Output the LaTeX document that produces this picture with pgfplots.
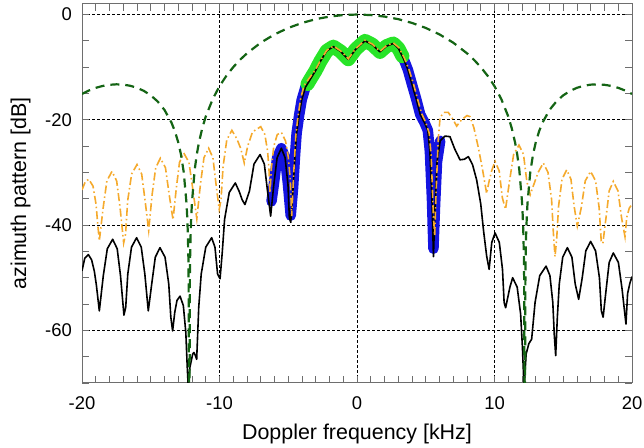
\documentclass[border=0pt]{standalone}
\usepackage{fontspec}
\setmainfont{Liberation Sans}
\usepackage{pgfplots}
\pgfplotsset{compat=1.18}
\usepackage{pgfplotstable}
\definecolor{lime}{RGB}{40,228,40}
\definecolor{bblue}{RGB}{20,20,225}
\definecolor{orng}{RGB}{245,170,45}
\definecolor{dgreen}{RGB}{20,100,20}
\definecolor{framegray}{RGB}{110,110,110}

\pgfplotstableread{
x y
-20 -48.7
-19.8 -46.3
-19.54 -45.6
-19.3 -46.6
-19.1 -48.8
-18.95 -51.5
-18.74 -56.3
-18.45 -49.6
-18.16 -44.5
-17.77 -42.7
-17.44 -44.5
-17.20 -49.6
-16.95 -57.1
-16.82 -55.6
-16.67 -49.3
-16.40 -44.2
-16.03 -42.4
-15.69 -44.2
-15.43 -49.3
-15.18 -56.3
-14.93 -51.2
-14.67 -46.1
-14.33 -44.3
-13.96 -46.1
-13.69 -51.2
-13.54 -57.5
-13.41 -60.1
-13.25 -56.5
-13.09 -54.3
-12.87 -53.5
-12.63 -55.3
-12.45 -60.4
-12.35 -66.7
-12.27 -71
-12.15 -67
-11.95 -64.5
-11.86 -64.2
-11.75 -64.8
-11.66 -65.5
-11.51 -55.6
-11.33 -49.3
-11.0 -44.2
-10.57 -42.4
-10.33 -44.2
-10.14 -49.3
-9.96 -50.2
-9.80 -45.2
-9.63 -38.9
-9.29 -33.8
-8.85 -32
-8.57 -33.6
-8.35 -35.2
-8.15 -36.1
-7.82 -33.5
-7.49 -28.4
-7.05 -26.6
-6.74 -28.4
-6.51 -33.5
-6.28 -38.3
-6.05 -32.3
-5.81 -27.2
-5.5 -25.4
-5.23 -27.2
-5.02 -32.3
-4.92 -38.6
-4.82 -39.5
-4.65 -33
-4.5 -26.5
-4.39 -22.5
-4.2 -19
-4.02 -16.2
-3.75 -13.8
-3.42 -12.4
-3.0 -10.6
-2.69 -9.0
-2.2 -6.9
-1.72 -6.1
-1.2 -7.0
-0.63 -8.5
-0.1 -6.6
0.58 -5.0
1.1 -5.7
1.67 -7.1
2.15 -6.0
2.64 -5.5
3.0 -6.4
3.37 -8.3
3.7 -10.5
3.98 -13.1
4.3 -16
4.6 -19
4.9 -20.5
5.15 -22
5.3 -26
5.45 -35
5.56 -46
5.68 -36
5.82 -28
6.05 -24
6.4 -23.1
6.76 -23.2
7.1 -25.5
7.49 -27.6
7.8 -27.5
8.1 -27.0
8.4 -28.5
8.7 -31.4
9.0 -36
9.2 -41
9.43 -45.9
9.61 -48.4
9.80 -43.3
10.04 -41.5
10.35 -43.3
10.58 -48.4
10.70 -54.7
10.81 -55.7
11.12 -51.8
11.32 -50
11.65 -51.8
11.90 -56.9
12.03 -63.2
12.15 -71
12.3 -64.5
12.5 -62.5
12.7 -61.7
12.95 -54.7
13.29 -49.6
13.75 -47.8
14.03 -49.6
14.24 -54.7
14.35 -61
14.45 -64.8
14.57 -57.5
14.71 -51.2
14.96 -46.1
15.3 -44.3
15.63 -46.1
15.87 -51.2
16.12 -54.1
16.38 -50.0
16.64 -44.9
16.99 -43.1
17.35 -44.9
17.63 -50.0
17.77 -56.3
17.9 -57.5
18.12 -52.2
18.34 -47.1
18.64 -45.3
19.01 -47.1
19.28 -52.2
19.56 -58.8
19.68 -53
19.85 -51
20 -49.8
}\blackdata

\pgfplotstableread{
x y
-20 -33.3
-19.75 -31.7
-19.5 -31.3
-19.2 -32.6
-18.98 -36.0
-18.85 -40
-18.74 -43
-18.46 -36.7
-18.19 -31.6
-17.82 -29.8
-17.48 -31.6
-17.23 -36.7
-16.97 -43.4
-16.83 -41.7
-16.68 -35.4
-16.39 -30.3
-16.0 -28.5
-15.66 -30.3
-15.41 -35.4
-15.15 -41
-14.90 -34.2
-14.64 -29.1
-14.3 -27.3
-13.93 -29.1
-13.66 -34.2
-13.38 -39
-13.15 -33.2
-12.91 -28.1
-12.6 -26.3
-12.22 -28.1
-11.94 -33.2
-11.65 -38.8
-11.39 -32.3
-11.13 -27.2
-10.79 -25.4
-10.48 -27.2
-10.25 -32.3
-10.02 -37
-9.89 -35.2
-9.74 -28.9
-9.47 -23.8
-9.1 -22.0
-8.74 -23.6
-8.45 -25.5
-8.2 -28.2
-7.95 -25
-7.6 -22.3
-7.0 -21.3
-6.7 -22.8
-6.5 -26
-6.4 -29.5
-6.33 -33.9
-6.22 -29
-6.05 -25
-5.8 -22.8
-5.5 -22.4
-5.2 -24
-5.0 -27
-4.85 -31.5
-4.75 -38.3
-4.6 -30
-4.45 -23
-4.3 -19.5
-4.1 -16
-3.85 -13.5
-3.5 -12.2
-3.0 -10.4
-2.69 -8.9
-2.2 -6.8
-1.72 -6.0
-1.2 -6.9
-0.63 -8.4
-0.1 -6.5
0.58 -4.9
1.1 -5.6
1.67 -7.0
2.15 -5.9
2.64 -5.4
3.05 -6.3
3.45 -8.3
3.8 -10.6
4.1 -13.1
4.4 -16
4.7 -18.8
5.0 -20.5
5.25 -22.5
5.4 -27
5.55 -38
5.65 -42
5.75 -34
5.9 -24
6.04 -19.6
6.3 -18.6
6.64 -18.6
6.95 -19.8
7.25 -21.2
7.6 -20
8.0 -19.2
8.22 -19.4
8.5 -21.5
8.8 -25
9.1 -29
9.43 -34
9.58 -32
9.79 -29.7
10.04 -27.9
10.34 -29.7
10.57 -34.8
10.8 -37
11.09 -31.7
11.39 -26.6
11.78 -24.8
12.11 -26.6
12.35 -31.7
12.6 -34.2
13.17 -30
13.55 -28.2
13.89 -30
14.15 -35.1
14.28 -41.4
14.4 -46
14.52 -42.7
14.66 -36.4
14.91 -31.3
15.25 -29.5
15.56 -31.3
15.79 -36.4
16.02 -40.2
16.31 -36.7
16.60 -31.6
16.99 -29.8
17.35 -31.6
17.61 -36.7
17.76 -43
17.88 -43.5
18.11 -38.6
18.34 -33.5
18.64 -31.7
18.98 -33.5
19.24 -38.6
19.49 -42.2
19.62 -38.5
19.8 -36.8
20 -36
}\orangedata

\pgfplotstableread{
x y
-20 -15.09
-19.5 -14.44
-19 -13.93
-18.5 -13.57
-18 -13.35
-17.5 -13.26
-17 -13.32
-16.5 -13.53
-16 -13.92
-15.5 -14.51
-15 -15.35
-14.5 -16.51
-14 -18.13
-13.5 -20.49
-13.25 -22.13
-13 -24.28
-12.8 -26.61
-12.6 -29.98
-12.4 -35.84
-12.35 -38.31
-12.3 -41.79
-12.25 -47.8
-12.2 -90
-12.15 -47.72
-12.1 -41.67
-12.05 -38.10
-12 -35.57
-11.8 -29.41
-11.65 -26.55
-11.5 -24.36
-11.25 -21.56
-11 -19.37
-10.5 -16.10
-10 -13.61
-9.5 -11.64
-9 -9.99
-8.5 -8.58
-8 -7.37
-7 -5.35
-6 -3.78
-5 -2.55
-4 -1.60
-3 -0.88
-2 -0.39
-1 -0.10
0 0
1 -0.10
2 -0.39
3 -0.88
4 -1.60
5 -2.55
6 -3.78
7 -5.35
8 -7.37
8.5 -8.58
9 -9.99
9.5 -11.64
10 -13.61
10.5 -16.10
11 -19.37
11.25 -21.56
11.5 -24.36
11.65 -26.55
11.8 -29.41
12 -35.57
12.05 -38.10
12.1 -41.67
12.15 -47.72
12.2 -90
12.25 -47.8
12.3 -41.79
12.35 -38.31
12.4 -35.84
12.6 -29.98
12.8 -26.61
13 -24.28
13.25 -22.13
13.5 -20.49
14 -18.13
14.5 -16.51
15 -15.35
15.5 -14.51
16 -13.92
16.5 -13.53
17 -13.32
17.5 -13.26
18 -13.35
18.5 -13.57
19 -13.93
19.5 -14.44
20 -15.09
}\sincdata

\pgfplotstableread{
x y
-6.22 -35.5
-6.05 -32.3
-5.81 -27.2
-5.5 -25.4
-5.23 -27.2
-5.02 -32.3
-4.82 -38.2
-4.65 -33
-4.5 -26.5
-4.39 -22.5
-4.2 -19
-4.02 -16.2
-3.75 -13.8
-3.4 -12.3
}\blueleft

\pgfplotstableread{
x y
3.2 -7.3
3.37 -8.3
3.7 -10.5
3.98 -13.1
4.3 -16
4.6 -19
4.9 -20.5
5.15 -22
5.3 -26
5.45 -35
5.56 -44.5
5.68 -36
5.82 -28
6.05 -24
}\blueright

\pgfplotstableread{
x y
-3.6 -13.2
-3.42 -12.4
-3.0 -10.6
-2.69 -9.0
-2.2 -6.9
-1.72 -6.1
-1.2 -7.0
-0.63 -8.5
-0.1 -6.6
0.58 -5.0
1.1 -5.7
1.67 -7.1
2.15 -6.0
2.64 -5.5
3.0 -6.4
3.3 -7.9
}\greendata

\begin{document}
\begin{tikzpicture}
\begin{axis}[
  name=ax,
  scale only axis,
  width=550bp, height=379bp,
  xmin=-20, xmax=20, ymin=-70, ymax=2,
  xtick={-20,-10,0,10,20},
  ytick={-60,-40,-20,0},
  minor xtick={-20,-19,...,20},
  minor ytick={-70,-65,...,0},
  tick pos=both, ticklabel pos=left,
  tick align=inside,
  major tick length=7bp, minor tick length=7bp,
  every tick/.style={framegray, line width=0.8bp},
  axis line style={framegray, line width=1bp},
  grid=major,
  major grid style={black, line width=0.6bp, dash pattern=on 2.5bp off 2.5bp},
  /pgf/number format/assume math mode=true,
  tick label style={font=\fontsize{18.5}{22}\selectfont},
  xticklabel style={anchor=base, yshift=-27bp},
  yticklabel style={anchor=east, inner sep=0pt, xshift=-10bp},
  xlabel={Doppler frequency [kHz]},
  ylabel={azimuth pattern [dB]},
  label style={font=\fontsize{21.5}{24}\selectfont},
  xlabel style={at={(axis description cs:0.5,-0.150)}, anchor=base, inner sep=0pt},
  ylabel style={at={(axis description cs:-0.093,0.5)}, anchor=south, inner sep=0pt},
]
\addplot[bblue, line width=10.5bp, line join=round, line cap=round] table {\blueleft};
\addplot[bblue, line width=10.5bp, line join=round, line cap=round] table {\blueright};
\addplot[lime, line width=14bp, line join=round, line cap=round] table {\greendata};
\addplot[black, line width=1.6bp, line join=round] table {\blackdata};
\addplot[orng, line width=1.6bp, dash pattern=on 8bp off 3bp on 1.5bp off 3bp] table {\orangedata};
\addplot[dgreen, line width=2.2bp, dash pattern=on 9bp off 6bp] table {\sincdata};
\end{axis}
\pgfresetboundingbox
\path ([shift={(-82bp,-65bp)}]ax.south west) rectangle ([shift={(12bp,4bp)}]ax.north east);
\end{tikzpicture}
\end{document}
